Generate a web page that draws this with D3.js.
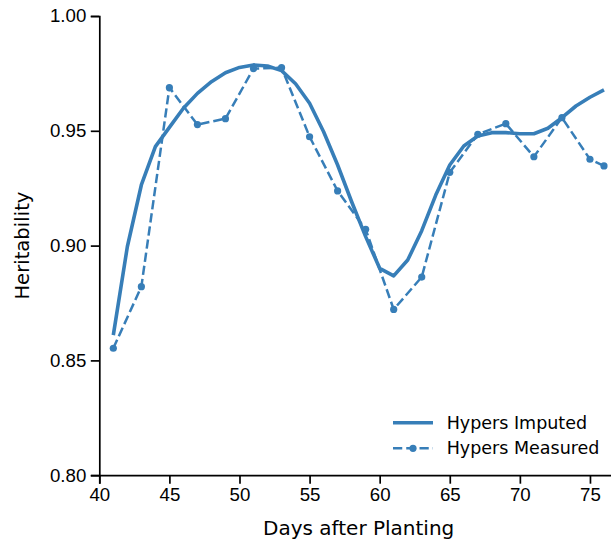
<!DOCTYPE html>
<html>
<head>
<meta charset="utf-8">
<script src="https://cdnjs.cloudflare.com/ajax/libs/d3/7.8.5/d3.min.js"></script>
<style>
    body { margin: 0; background: #fff; }
    svg { display: block; font-family: "DejaVu Sans", sans-serif; }
    .axis path, .axis line { stroke: #000; stroke-width: 1.7; }
    .axis text { font-size: 18.67px; fill: #000; }
</style>
</head>
<body>
<div class="chart"></div>
<script>
"use strict"

// days for the imputed curve (daily) and the measured points
const imputedDays = [41, 42, 43, 44, 45, 46, 47, 48, 49, 50, 51, 52, 53, 54, 55, 56, 57, 58,
    59, 60, 61, 62, 63, 64, 65, 66, 67, 68, 69, 70, 71, 72, 73, 74, 75, 76];
const imputedValues = [0.861, 0.8995, 0.9264, 0.9431, 0.9515, 0.9598, 0.9663, 0.9714, 0.9753,
    0.9776, 0.9787, 0.9782, 0.9762, 0.9705, 0.962, 0.9496, 0.9351, 0.9191, 0.9039, 0.8901,
    0.8868, 0.8937, 0.9065, 0.922, 0.9351, 0.9434, 0.9477, 0.9492, 0.9492, 0.9487, 0.9487,
    0.9511, 0.9557, 0.9608, 0.9646, 0.9678];

const measuredDays = [41, 43, 45, 47, 49, 51, 53, 55, 57, 59, 61, 63, 65, 67, 69, 71, 73, 75, 76];
const measuredValues = [0.8553, 0.8821, 0.9688, 0.9527, 0.9553, 0.9771, 0.9775, 0.9474, 0.9238,
    0.9071, 0.8722, 0.8863, 0.9319, 0.9485, 0.9531, 0.9387, 0.9557, 0.9376, 0.9347];

const xTicks = [40, 45, 50, 55, 60, 65, 70, 75];
const yTicks = [0.80, 0.85, 0.90, 0.95, 1.00];
const seriesNames = ["Hypers Imputed", "Hypers Measured"];

let width = 611,
    height = 541;
const plotLeft = 99.3, plotRight = 618, plotTop = 16, plotBottom = 475.2;
const blue = "#377eb8";

const svg = d3.select("div.chart").append("svg")
    .attr("width", width)
    .attr("height", height);

const scaleX = d3.scaleLinear()
    .domain([40, 77])
    .range([plotLeft, plotRight]);

const scaleY = d3.scaleLinear()
    .domain([0.8, 1.0])
    .range([plotBottom, plotTop]);

svg.append("g")
    .attr("class", "axis x-axis")
    .attr("transform", "translate(0," + plotBottom + ")")
    .call(d3.axisBottom(scaleX).tickValues(xTicks).tickSizeOuter(0).tickSize(8.5).tickPadding(4.5)
        .tickFormat(d3.format("d")));

svg.append("g")
    .attr("class", "axis y-axis")
    .attr("transform", "translate(" + plotLeft + ",0)")
    .call(d3.axisLeft(scaleY).tickValues(yTicks).tickSizeOuter(0).tickSize(8.5).tickPadding(4.5)
        .tickFormat(d3.format(".2f")));

// axis labels
svg.append("text")
    .attr("x", (plotLeft + plotRight) / 2)
    .attr("y", 534.5)
    .attr("text-anchor", "middle")
    .style("font-size", "20px")
    .text("Days after Planting");

svg.append("text")
    .attr("transform", "translate(28.5," + (plotTop + plotBottom) / 2 + ") rotate(-90)")
    .attr("text-anchor", "middle")
    .style("font-size", "19.6px")
    .text("Heritability");

// lines
const line = d3.line()
    .x(d => scaleX(d[0]))
    .y(d => scaleY(d[1]));

const imputed = imputedDays.map((d, i) => [d, imputedValues[i]]);
const measured = measuredDays.map((d, i) => [d, measuredValues[i]]);

svg.append("path")
    .attr("d", line(imputed))
    .attr("fill", "none")
    .attr("stroke", blue)
    .attr("stroke-width", 3.6)
    .attr("stroke-linejoin", "round");

svg.append("path")
    .attr("d", line(measured))
    .attr("fill", "none")
    .attr("stroke", blue)
    .attr("stroke-width", 2.5)
    .attr("stroke-dasharray", "9.25,4");

svg.selectAll("circle.dot")
    .data(measured)
    .enter().append("circle")
    .attr("class", "dot")
    .attr("cx", d => scaleX(d[0]))
    .attr("cy", d => scaleY(d[1]))
    .attr("r", 3.6)
    .attr("fill", blue);

// legend
const legend = svg.append("g");
seriesNames.forEach((name, i) => {
    const ly = 422.7 + i * 25.6;
    legend.append("line")
        .attr("x1", 393).attr("x2", 433)
        .attr("y1", ly).attr("y2", ly)
        .attr("stroke", blue)
        .attr("stroke-width", i == 0 ? 3.6 : 2.5)
        .attr("stroke-dasharray", i == 0 ? null : "9.25,4");
    if (i == 1) {
        legend.append("circle")
            .attr("cx", 413).attr("cy", ly).attr("r", 3.6)
            .attr("fill", blue);
    }
    legend.append("text")
        .attr("x", 446.7)
        .attr("y", ly)
        .attr("dy", "0.35em")
        .style("font-size", "17.5px")
        .text(name);
});
</script>
</body>
</html>
